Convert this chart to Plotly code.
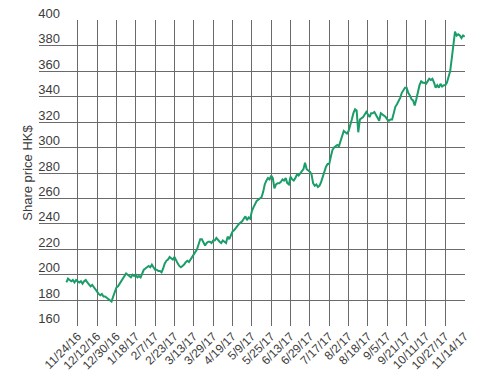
import plotly.graph_objects as go

# Trading-day index of first observation (relative to 11/24/16 tick)
start_index = -7

prices = [
    # -7..0
    194, 197, 196, 195, 196, 194, 196, 195,
    # 1..12
    194, 195, 193, 195, 196, 194, 192, 191, 192, 190, 189, 186,
    # 13..24
    185, 184, 185, 183, 183, 182, 181, 180, 179, 183, 186, 190,
    # 25..36
    191, 193, 194, 197, 199, 201, 200, 199, 198, 200, 199, 200,
    # 37..48
    198, 199, 198, 201, 204, 205, 206, 207, 206, 208, 206, 204,
    # 49..60
    204, 203, 203, 202, 205, 209, 211, 212, 214, 213, 212, 214,
    # 61..72
    211, 209, 207, 206, 207, 208, 210, 211, 210, 212, 213, 215,
    # 73..84
    217, 220, 224, 228, 228, 226, 223, 225, 226, 226, 225, 227,
    # 85..96
    227, 229, 227, 226, 225, 227, 226, 225, 230, 228, 231, 234,
    # 97..108
    235, 237, 239, 240, 241, 242, 244, 246, 243, 245, 244, 250,
    # 109..120
    253, 256, 258, 259, 260, 261, 265, 271, 274, 276, 275, 278,
    # 121..132
    276, 268, 271, 272, 272, 273, 275, 274, 276, 272, 271, 277,
    # 133..144
    275, 274, 276, 279, 278, 280, 281, 283, 288, 283, 282, 281,
    # 145..156
    279, 272, 270, 271, 269, 270, 273, 277, 281, 285, 287, 287,
    # 157..168
    293, 298, 300, 301, 302, 301, 305, 308, 313, 312, 311, 313,
    # 169..180
    317, 322, 327, 330, 329, 312, 322, 323, 324, 326, 328, 326,
    # 181..192
    324, 327, 327, 328, 326, 324, 321, 327, 326, 325, 324, 322,
    # 193..204
    321, 322, 322, 327, 332, 334, 336, 339, 343, 345, 347, 347,
    # 205..216
    343, 341, 338, 337, 333, 338, 345, 349, 352, 351, 351, 350,
    # 217..228
    352, 354, 353, 354, 351, 347, 349, 347, 350, 348, 349, 349,
    # 229..240
    351, 355, 360, 370, 382, 391, 388, 389, 388, 386, 388, 387,
]

tick_labels = [
    "11/24/16", "12/12/16", "12/30/16", "1/18/17", "2/7/17", "2/23/17",
    "3/13/17", "3/29/17", "4/19/17", "5/9/17", "5/25/17", "6/13/17",
    "6/29/17", "7/17/17", "8/2/17", "8/18/17", "9/5/17", "9/21/17",
    "10/11/17", "10/27/17", "11/14/17",
]
tick_step = 12  # trading days between labelled ticks

y_ticks = [160, 180, 200, 220, 240, 260, 280, 300, 320, 340, 360, 380, 400]

x_vals = list(range(start_index, start_index + len(prices)))
tick_vals = [i * tick_step for i in range(len(tick_labels))]

GRID = "#6a6a6a"
TEXT = "#3c3c3c"
FONT = "Liberation Sans, Arial, sans-serif"

fig = go.Figure()
fig.add_trace(go.Scatter(
    x=x_vals, y=prices, mode="lines",
    line=dict(color="#1a9d68", width=2),
    hoverinfo="skip",
))

fig.update_layout(
    width=500, height=384,
    margin=dict(l=39, r=35, t=20, b=51),
    paper_bgcolor="white", plot_bgcolor="white",
    showlegend=False,
    font=dict(family=FONT, size=12, color=TEXT),
)
fig.update_xaxes(
    range=[-24, 240.2],
    tickmode="array", tickvals=tick_vals, ticktext=tick_labels,
    tickangle=-45, tickfont=dict(size=12, color=TEXT),
    showgrid=True, gridcolor=GRID, gridwidth=1,
    zeroline=False, showline=False, ticks="",
)
fig.update_yaxes(
    range=[159.8, 400.2],
    tickmode="array", tickvals=y_ticks,
    ticklabelposition="outside",
    ticklabelstandoff=-22,
    ticklabelshift=-7,
    tickfont=dict(size=13, color=TEXT),
    showgrid=True, gridcolor=GRID, gridwidth=1,
    zeroline=False, showline=False, ticks="",
    title=dict(text="Share price HK$", font=dict(size=13, color=TEXT), standoff=2),
    automargin=False,
)

fig.write_html("out.html")
